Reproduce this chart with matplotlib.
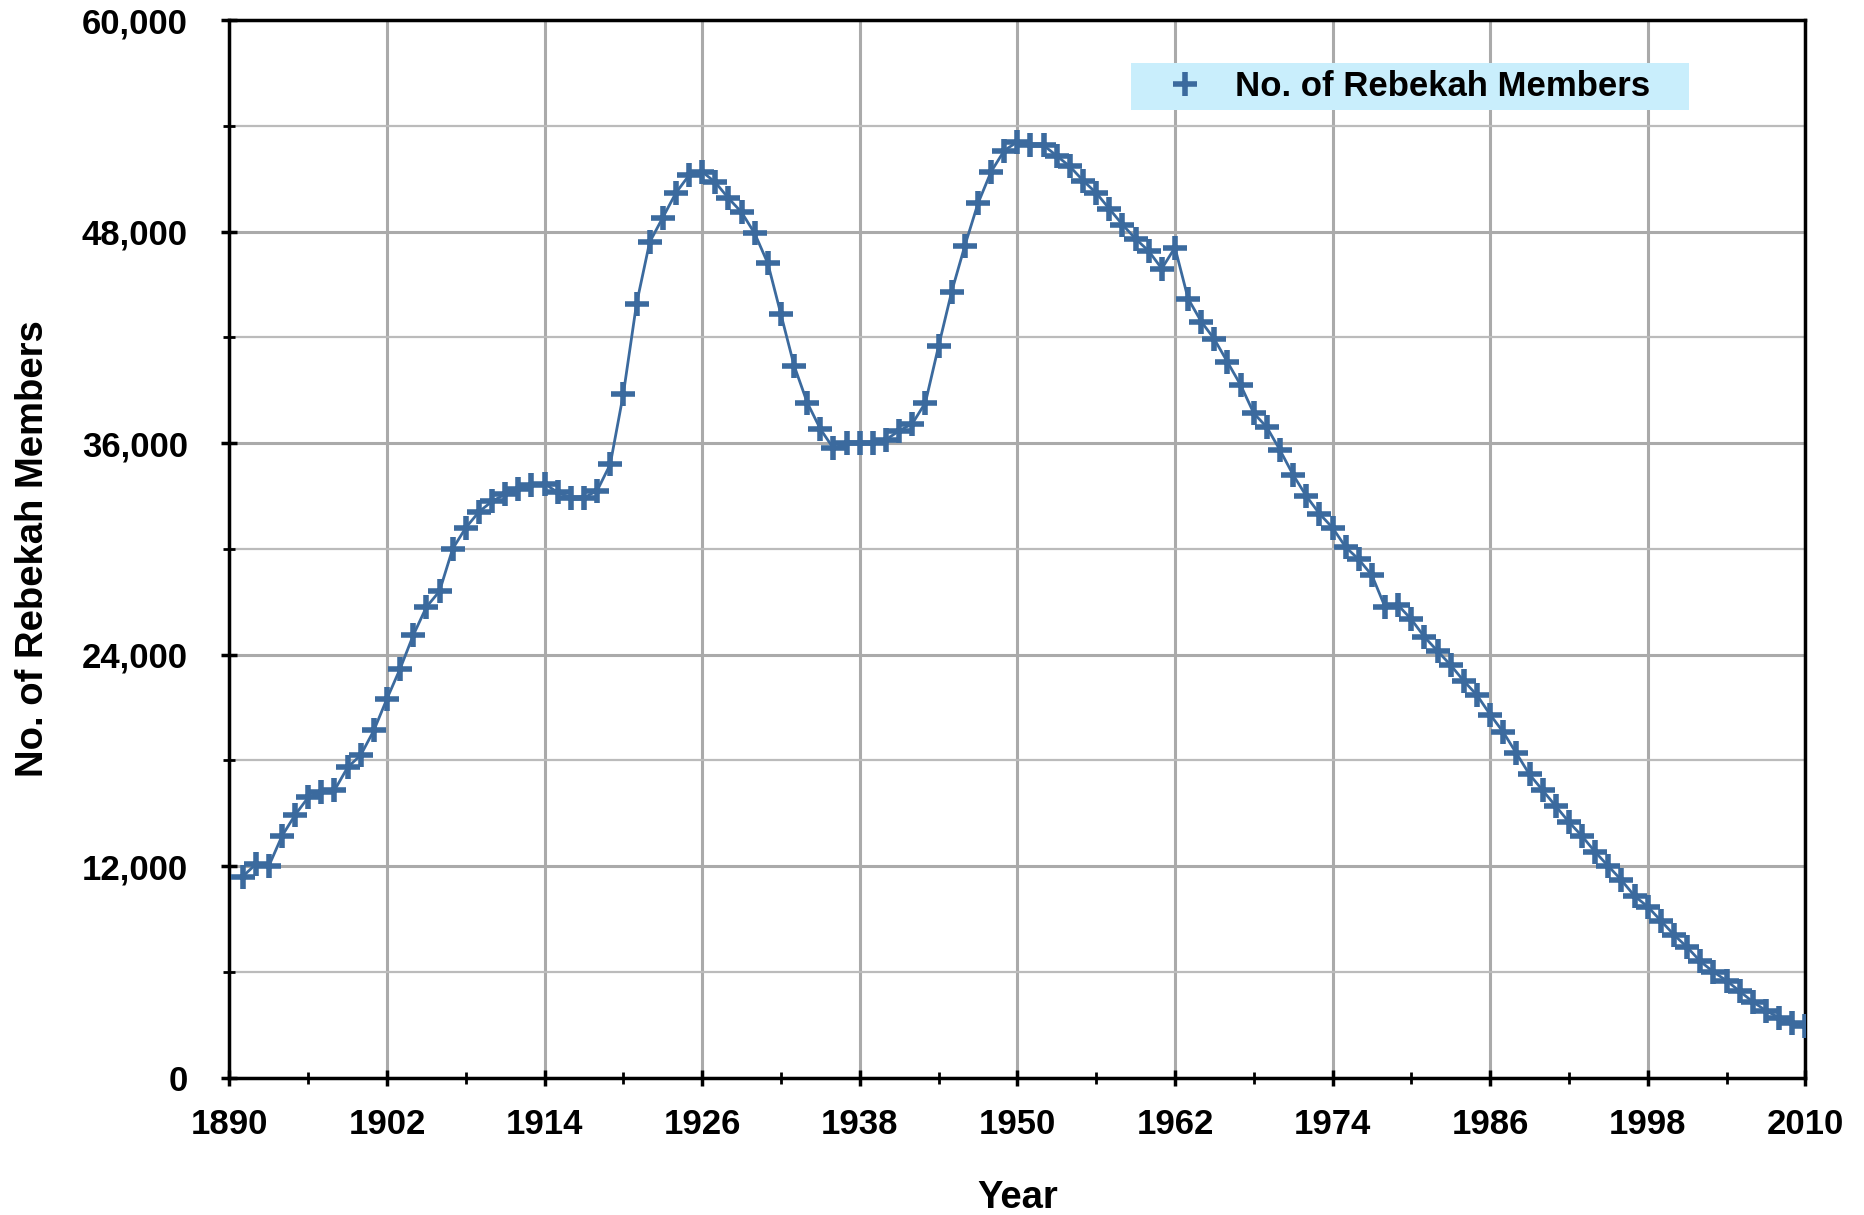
import matplotlib
matplotlib.use("Agg")
import matplotlib.pyplot as plt
from matplotlib.lines import Line2D
from matplotlib.ticker import MultipleLocator, FuncFormatter
import numpy as np

# Rebekah membership, one value per year from 1891
members = [
    11400, 12100, 12000, 13700, 14900, 15900, 16200, 16300, 17600, 18300,  # 1891-1900
    19700, 21500, 23200, 25100, 26700, 27600, 30000, 31200, 32100, 32700,  # 1901-1910
    33100, 33400, 33600, 33700, 33200, 32900, 32900, 33300, 34800, 38800,  # 1911-1920
    43900, 47400, 48800, 50200, 51200, 51400, 50800, 49900, 49100, 47900,  # 1921-1930
    46200, 43300, 40400, 38300, 36800, 35700, 36000, 36000, 36000, 36200,  # 1931-1940
    36700, 37100, 38300, 41500, 44600, 47200, 49600, 51400, 52600, 53100,  # 1941-1950
    52900, 52900, 52300, 51700, 50900, 50200, 49300, 48400, 47600, 46900,  # 1951-1960
    45900, 47100, 44200, 42900, 41900, 40600, 39300, 37700, 36900, 35600,  # 1961-1970
    34200, 33000, 32000, 31200, 30100, 29400, 28500, 26700, 26800, 26000,  # 1971-1980
    25000, 24200, 23400, 22500, 21700, 20600, 19600, 18400, 17200, 16300,  # 1981-1990
    15400, 14500, 13700, 12800, 12000, 11200, 10300, 9700, 8900, 8100,    # 1991-2000
    7400, 6600, 6000, 5500, 4900, 4300, 3800, 3400, 3100, 2900,          # 2001-2010
]
years = np.arange(1891, 1891 + len(members))
series_name = "No. of Rebekah Members"

blue = "#3b6a9e"

plt.rcParams['font.family'] = ['Liberation Sans', 'DejaVu Sans']
plt.rcParams['font.weight'] = 'bold'

fig = plt.figure(figsize=(18.65, 12.15), dpi=100)
ax = fig.add_axes([0.123, 0.1131, 0.845, 0.8703])

ax.plot(years, members, color=blue, linewidth=2, marker='+',
        markersize=17, markeredgewidth=4, zorder=3)

ax.set_xlim(1890, 2010)
ax.set_ylim(0, 60000)
# 1890 is 6 past a multiple of 12
ax.xaxis.set_major_locator(MultipleLocator(12, offset=6))
ax.xaxis.set_minor_locator(MultipleLocator(6))
ax.yaxis.set_major_locator(MultipleLocator(12000))
ax.yaxis.set_minor_locator(MultipleLocator(6000))
ax.yaxis.set_major_formatter(FuncFormatter(lambda v, p: f"{int(v):,}"))

# grid: vertical only at major, horizontal at major and minor
ax.grid(True, which='major', axis='x', color='#aaaaaa', linewidth=2.2, zorder=1)
ax.grid(True, which='major', axis='y', color='#aaaaaa', linewidth=2.2, zorder=1)
ax.grid(True, which='minor', axis='y', color='#bbbbbb', linewidth=1.6, zorder=1)
ax.set_axisbelow(True)

for s in ax.spines.values():
    s.set_color('black')
    s.set_linewidth(2.5)

ax.tick_params(which='major', direction='inout', length=12, width=2.5,
               labelsize=25)
ax.tick_params(axis='x', which='major', pad=16)
ax.tick_params(axis='y', which='major', pad=24)
ax.tick_params(which='minor', direction='inout', length=8, width=2)
for lab in ax.get_xticklabels() + ax.get_yticklabels():
    lab.set_fontweight('bold')

ax.set_xlabel("Year", fontsize=27.5, fontweight='bold', labelpad=28)
ax.set_ylabel(series_name, fontsize=27.5, fontweight='bold', labelpad=22)

handle = Line2D([], [], color=blue, linestyle='none', marker='+',
                markersize=17, markeredgewidth=4)
leg = ax.legend([handle], [series_name], loc='upper left',
                bbox_to_anchor=(0.572, 0.916, 0.354, 0.0435), mode='expand',
                fontsize=25, frameon=True, fancybox=False, framealpha=1,
                facecolor='#c9eefc', edgecolor='none', borderpad=0.2,
                handlelength=2.7, handletextpad=0.1, borderaxespad=0)
for t in leg.get_texts():
    t.set_fontweight('bold')

fig.savefig("out.png", dpi=100)
